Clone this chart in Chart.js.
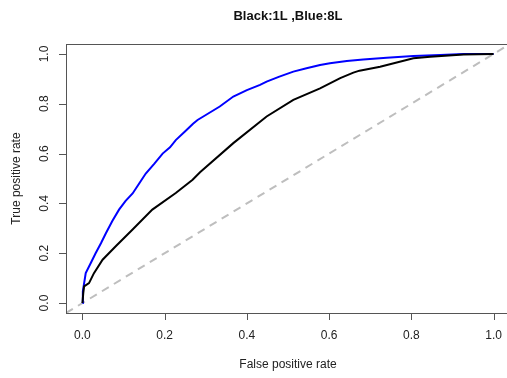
<!DOCTYPE html>
<html>
<head>
<meta charset="utf-8">
<script src="https://cdn.jsdelivr.net/npm/chart.js@4/dist/chart.umd.min.js"></script>
<style>
  html, body { margin: 0; padding: 0; background: #fff; overflow: hidden; }
  #wrap { width: 507px; height: 378px; overflow: hidden; }
  canvas { display: block; }
</style>
</head>
<body>
<div id="wrap"><canvas id="c" width="511" height="378"></canvas></div>
<script>
// ----- data -----
const chartTitle = "Black:1L ,Blue:8L";
const xAxisTitle = "False positive rate";
const yAxisTitle = "True positive rate";
const tickValues = [0, 0.2, 0.4, 0.6, 0.8, 1.0];
const tickLabels = ["0.0", "0.2", "0.4", "0.6", "0.8", "1.0"];

// Black curve (1L): false positive rate / true positive rate
const fpr1L = [0, 0.002, 0.004, 0.016, 0.028, 0.049, 0.081, 0.122, 0.170, 0.227, 0.268, 0.286, 0.367, 0.448, 0.513, 0.578, 0.627, 0.659, 0.674, 0.724, 0.805, 0.846, 0.927, 1.0];
const tpr1L = [0, 0.040, 0.067, 0.080, 0.120, 0.174, 0.228, 0.295, 0.375, 0.442, 0.495, 0.525, 0.642, 0.749, 0.816, 0.862, 0.903, 0.925, 0.933, 0.949, 0.983, 0.989, 0.998, 1.0];

// Blue curve (8L)
const fpr8L = [0, 0.001, 0.008, 0.020, 0.032, 0.045, 0.057, 0.073, 0.089, 0.105, 0.122, 0.138, 0.154, 0.175, 0.195, 0.213, 0.227, 0.250, 0.269, 0.280, 0.294, 0.334, 0.367, 0.400, 0.432, 0.448, 0.479, 0.513, 0.545, 0.578, 0.602, 0.643, 0.683, 0.740, 0.805, 0.870, 0.927, 1.0];
const tpr8L = [0, 0.047, 0.120, 0.160, 0.200, 0.240, 0.280, 0.330, 0.375, 0.410, 0.440, 0.480, 0.520, 0.560, 0.600, 0.625, 0.654, 0.690, 0.720, 0.735, 0.749, 0.789, 0.829, 0.855, 0.876, 0.889, 0.909, 0.929, 0.943, 0.956, 0.963, 0.972, 0.978, 0.985, 0.992, 0.996, 1.0, 1.0];

// reference diagonal (abline a=0, b=1)
const diagX = [-0.04, 1.04];
const diagY = [-0.04, 1.04];

const toPts = (xs, ys) => xs.map((x, i) => ({ x: x, y: ys[i] }));

const FONT = "'Liberation Sans', Arial, Helvetica, sans-serif";

const rAxesPlugin = {
  id: 'rAxes',
  afterDraw(chart) {
    const ctx = chart.ctx;
    const a = chart.chartArea;
    const xs = chart.scales.x, ys = chart.scales.y;
    ctx.save();
    // box
    ctx.strokeStyle = '#555';
    ctx.lineWidth = 1;
    ctx.strokeRect(Math.round(a.left) + 0.5, Math.round(a.top) + 0.5,
                   Math.round(a.right - a.left), Math.round(a.bottom - a.top));
    // x ticks
    ctx.fillStyle = '#222';
    ctx.font = '12px ' + FONT;
    ctx.textAlign = 'center';
    ctx.textBaseline = 'middle';
    tickValues.forEach((v, i) => {
      const px = Math.round(xs.getPixelForValue(v)) + 0.5;
      ctx.beginPath();
      ctx.moveTo(px, a.bottom);
      ctx.lineTo(px, a.bottom + 7);
      ctx.stroke();
      ctx.fillText(tickLabels[i], xs.getPixelForValue(v), a.bottom + 23);
    });
    // y ticks (rotated labels)
    tickValues.forEach((v, i) => {
      const py = Math.round(ys.getPixelForValue(v)) + 0.5;
      ctx.beginPath();
      ctx.moveTo(a.left, py);
      ctx.lineTo(a.left - 7, py);
      ctx.stroke();
      ctx.save();
      ctx.translate(a.left - 21, ys.getPixelForValue(v));
      ctx.rotate(-Math.PI / 2);
      ctx.fillText(tickLabels[i], 0, 0);
      ctx.restore();
    });
    // axis titles
    const cx = (a.left + a.right) / 2;
    const cy = (a.top + a.bottom) / 2;
    ctx.fillText(xAxisTitle, cx, 365);
    ctx.save();
    ctx.translate(17, cy);
    ctx.rotate(-Math.PI / 2);
    ctx.fillText(yAxisTitle, 0, 0);
    ctx.restore();
    // main title
    ctx.fillStyle = '#111';
    ctx.font = 'bold 13px ' + FONT;
    ctx.fillText(chartTitle, cx, 16);
    ctx.restore();
  }
};

new Chart(document.getElementById('c'), {
  type: 'scatter',
  data: {
    datasets: [
      {
        label: '1L',
        data: toPts(fpr1L, tpr1L),
        showLine: true,
        borderColor: '#000000',
        borderWidth: 2,
        pointRadius: 0,
        tension: 0
      },
      {
        label: '8L',
        data: toPts(fpr8L, tpr8L),
        showLine: true,
        borderColor: '#0000ff',
        borderWidth: 2,
        pointRadius: 0,
        tension: 0
      },
      {
        label: 'diag',
        data: toPts(diagX, diagY),
        showLine: true,
        borderColor: '#bebebe',
        borderWidth: 2,
        borderDash: [8, 6],
        pointRadius: 0,
        tension: 0
      }
    ]
  },
  options: {
    responsive: false,
    animation: false,
    events: [],
    layout: { padding: { left: 66, right: 1, top: 44, bottom: 65 } },
    plugins: {
      legend: { display: false },
      title: { display: false },
      tooltip: { enabled: false }
    },
    scales: {
      x: { type: 'linear', min: -0.04, max: 1.04, display: false },
      y: { type: 'linear', min: -0.04, max: 1.04, display: false }
    }
  },
  plugins: [rAxesPlugin]
});
</script>
</body>
</html>
